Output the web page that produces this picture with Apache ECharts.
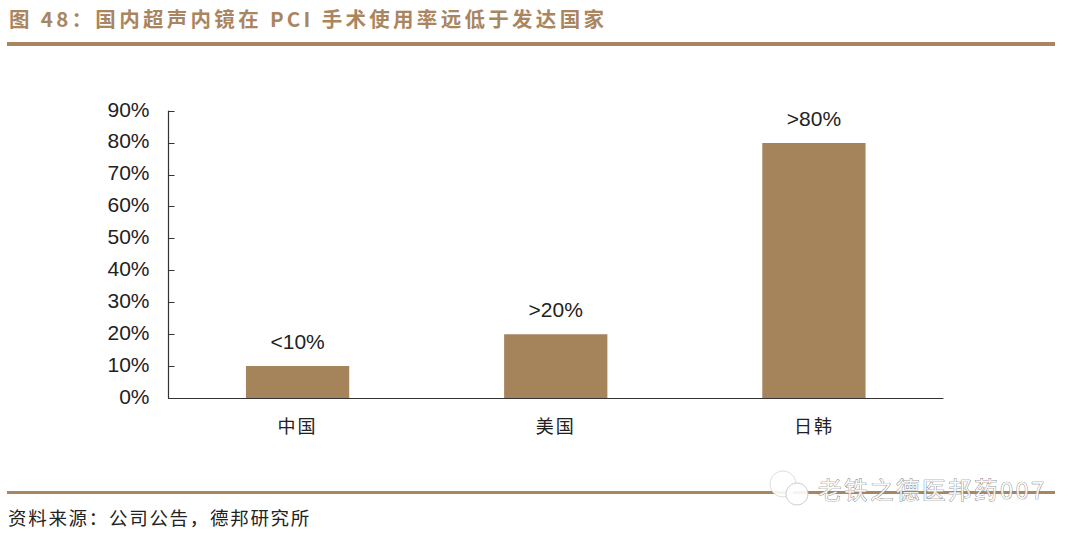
<!DOCTYPE html>
<html>
<head>
<meta charset="utf-8">
<title>PCI</title>
<script src="https://cdn.jsdelivr.net/npm/echarts@6/dist/echarts.min.js"></script>
<style>
  html, body { margin: 0; padding: 0; background: #fff; }
  #main { width: 1080px; height: 538px; }
  /* the svg renderer writes the font into each text's style, so spacing can key off the size */
  svg text[style*="20.5px"] { letter-spacing: 3.3px; }
  svg text[style*="18.5px"] { letter-spacing: 1.7px; }
  svg text[style*="18px"] { letter-spacing: 2px; }
  svg text[style*="23.5px"] { letter-spacing: 2.5px; }
</style>
</head>
<body>
<div id="main"></div>
<script>
const titleText = '图 48：国内超声内镜在 PCI 手术使用率远低于发达国家';
const sourceText = '资料来源：公司公告，德邦研究所';
const watermarkText = '老铁之德医邦药007';
const categories = ['中国', '美国', '日韩'];
const usageRates = [10, 20, 80];
const barLabels = ['<10%', '>20%', '>80%'];

const brown = '#a5835b';
const cjk = '"Noto Sans CJK SC", sans-serif';
const latin = '"Liberation Sans", Arial, sans-serif';

const myChart = echarts.init(document.getElementById('main'), null, { renderer: 'svg' });
const option = {
  animation: false,
  backgroundColor: '#fff',
  title: {
    text: titleText,
    left: 4,
    top: 3,
    textStyle: { color: '#a98560', fontFamily: cjk, fontSize: 20.5, fontWeight: 'bold' }
  },
  grid: { left: 168.5, right: 137, top: 111, bottom: 140 },
  xAxis: {
    type: 'category',
    data: categories,
    axisLine: { lineStyle: { color: '#333', width: 1.2 } },
    axisTick: { inside: true, length: 6, lineStyle: { color: '#333' } },
    axisLabel: { color: '#222', fontFamily: cjk, fontSize: 18, margin: 18 }
  },
  yAxis: {
    type: 'value',
    min: 0,
    max: 90,
    interval: 10,
    axisLine: { show: true, lineStyle: { color: '#333', width: 1.2 } },
    axisTick: { show: true, inside: true, length: 6, lineStyle: { color: '#333' } },
    axisLabel: {
      margin: 19,
      formatter: '{pct|{value}%}',
      rich: { pct: { color: '#222', fontFamily: latin, fontSize: 21, padding: [0, 0, 4, 0] } }
    },
    splitLine: { show: false }
  },
  series: [
    {
      type: 'bar',
      data: usageRates,
      barWidth: '40%',
      itemStyle: { color: brown },
      label: {
        show: true,
        position: 'top',
        distance: 14,
        color: '#222',
        fontFamily: latin,
        fontSize: 21,
        formatter: (p) => barLabels[p.dataIndex]
      }
    }
  ],
  graphic: [
    { type: 'rect', shape: { x: 7, y: 42, width: 1048, height: 4 }, style: { fill: '#a98560' } },
    { type: 'rect', shape: { x: 7, y: 491, width: 1048, height: 3 }, style: { fill: '#a98560' } },
    {
      type: 'text', x: 8, y: 508,
      style: { text: sourceText, fill: '#222', font: '18.5px ' + cjk }
    },
    { type: 'circle', shape: { cx: 783, cy: 484, r: 13 }, style: { fill: 'rgba(255,255,255,0.9)', stroke: '#ddd' } },
    { type: 'circle', shape: { cx: 797, cy: 494, r: 11 }, style: { fill: 'rgba(255,255,255,0.9)', stroke: '#ccc' } },
    {
      type: 'text', x: 818, y: 477,
      style: {
        text: watermarkText,
        fill: 'rgba(255,255,255,0.85)',
        stroke: '#777',
        lineWidth: 0.7,
        font: '23.5px ' + cjk
      }
    }
  ]
};
myChart.setOption(option);
</script>
</body>
</html>
